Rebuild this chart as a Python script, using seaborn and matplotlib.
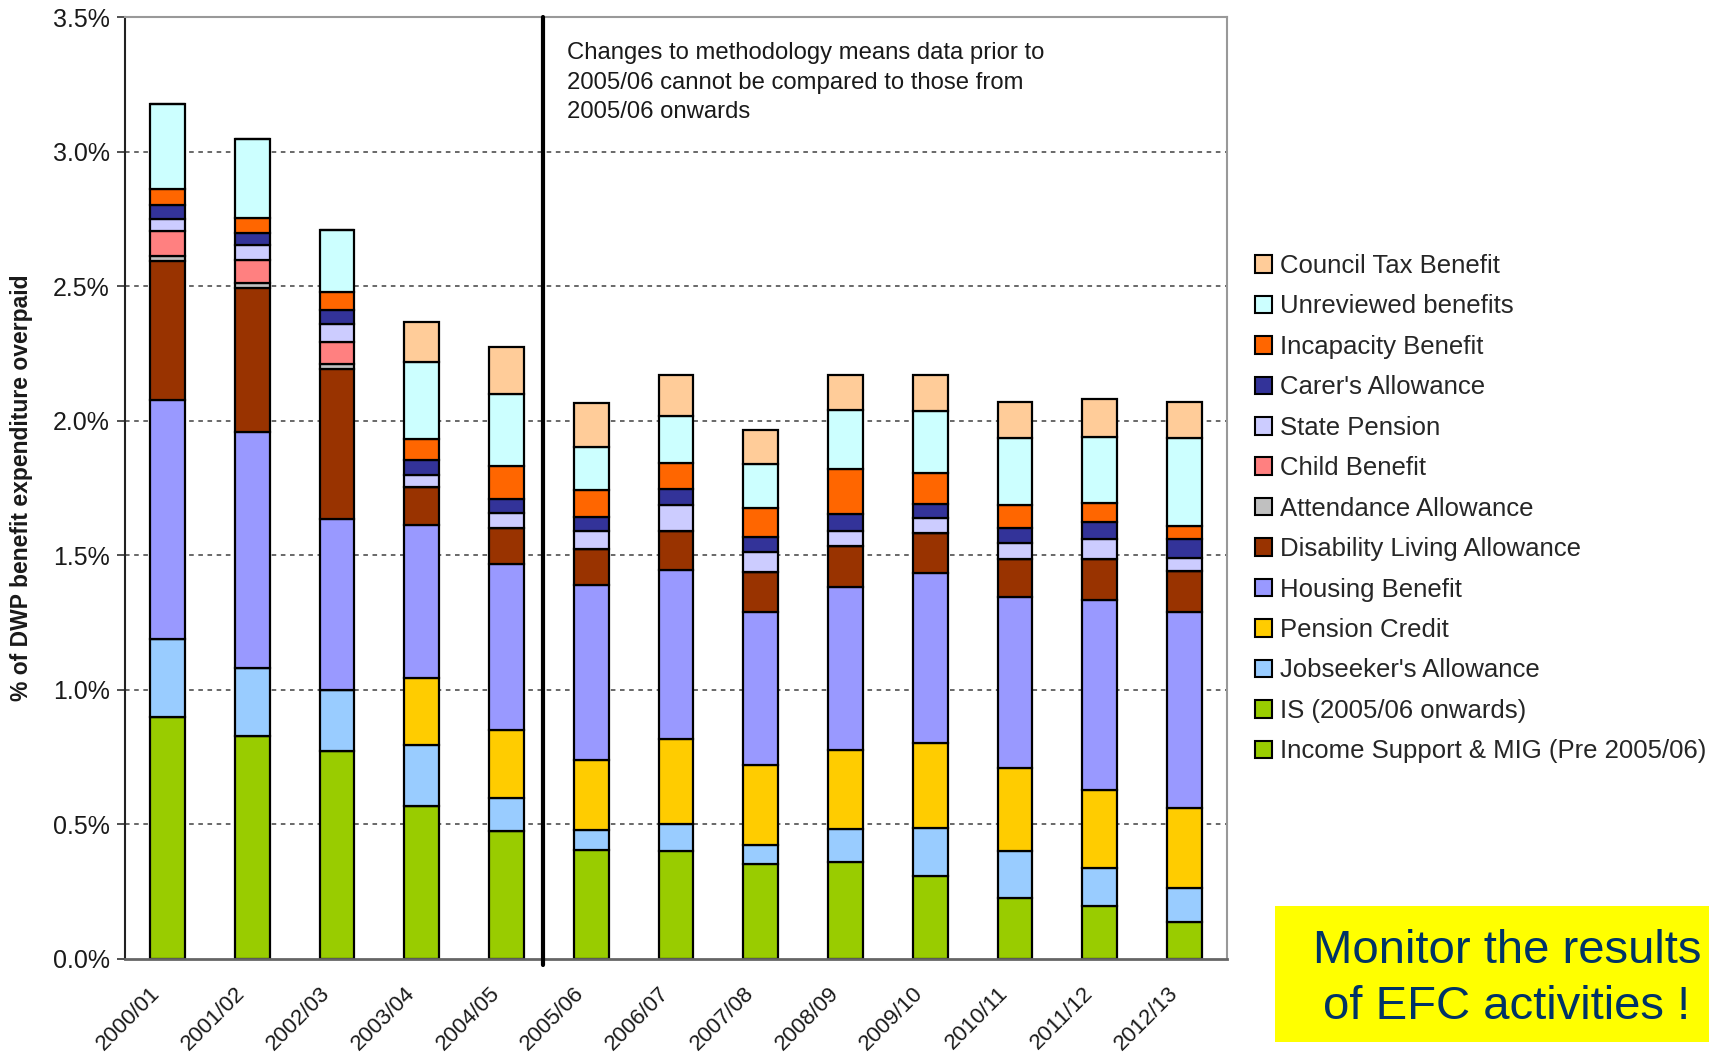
import numpy as np
import matplotlib
matplotlib.use("Agg")
import matplotlib.pyplot as plt
import matplotlib.transforms as mtransforms
from matplotlib.patches import Patch, Rectangle
import seaborn as sns

years = ['2000/01', '2001/02', '2002/03', '2003/04', '2004/05', '2005/06', '2006/07',
         '2007/08', '2008/09', '2009/10', '2010/11', '2011/12', '2012/13']

is_pre = [0.900, 0.829, 0.774, 0.569, 0.476, 0, 0, 0, 0, 0, 0, 0, 0]
is_post = [0, 0, 0, 0, 0, 0.404, 0.401, 0.354, 0.362, 0.308, 0.226, 0.196, 0.137]
jsa = [0.288, 0.251, 0.226, 0.226, 0.123, 0.074, 0.100, 0.068, 0.121, 0.177, 0.175, 0.142, 0.126]
pension_credit = [0, 0, 0, 0.248, 0.252, 0.261, 0.315, 0.299, 0.295, 0.317, 0.307, 0.291, 0.297]
housing = [0.888, 0.877, 0.636, 0.568, 0.616, 0.649, 0.630, 0.568, 0.605, 0.633, 0.638, 0.704, 0.730]
dla = [0.517, 0.537, 0.557, 0.143, 0.134, 0.136, 0.146, 0.150, 0.150, 0.146, 0.141, 0.153, 0.150]
attendance = [0.019, 0.019, 0.016, 0, 0, 0, 0, 0, 0, 0, 0, 0, 0]
child = [0.093, 0.084, 0.083, 0, 0, 0, 0, 0, 0, 0, 0, 0, 0]
state_pension = [0.046, 0.056, 0.066, 0.046, 0.056, 0.065, 0.095, 0.073, 0.058, 0.057, 0.060, 0.074, 0.051]
carers = [0.049, 0.046, 0.052, 0.055, 0.053, 0.053, 0.060, 0.057, 0.062, 0.052, 0.055, 0.062, 0.069]
incapacity = [0.060, 0.053, 0.069, 0.077, 0.120, 0.102, 0.095, 0.105, 0.168, 0.117, 0.085, 0.074, 0.047]
unreviewed = [0.315, 0.293, 0.229, 0.285, 0.270, 0.157, 0.175, 0.166, 0.217, 0.229, 0.247, 0.242, 0.327]
council_tax = [0, 0, 0, 0.149, 0.173, 0.163, 0.153, 0.124, 0.130, 0.134, 0.137, 0.141, 0.137]

# stacking order bottom -> top
series = [
    ("Income Support & MIG (Pre 2005/06)", is_pre, "#99CC00"),
    ("IS (2005/06 onwards)", is_post, "#99CC00"),
    ("Jobseeker's Allowance", jsa, "#99CCFF"),
    ("Pension Credit", pension_credit, "#FFCC00"),
    ("Housing Benefit", housing, "#9999FF"),
    ("Disability Living Allowance", dla, "#993300"),
    ("Attendance Allowance", attendance, "#C0C0C0"),
    ("Child Benefit", child, "#FF8080"),
    ("State Pension", state_pension, "#CCCCFF"),
    ("Carer's Allowance", carers, "#333399"),
    ("Incapacity Benefit", incapacity, "#FF6600"),
    ("Unreviewed benefits", unreviewed, "#CCFFFF"),
    ("Council Tax Benefit", council_tax, "#FFCC99"),
]

sns.set_style("white")
plt.rcParams['font.family'] = ['Liberation Sans', 'DejaVu Sans']

W, H = 1709, 1059
fig = plt.figure(figsize=(W / 100, H / 100), dpi=100)
ax = fig.add_axes([125 / W, 1 - 959 / H, (1227 - 125) / W, (959 - 17) / H])

cum = np.zeros(len(years))
for name, vals, col in series:
    v = np.array(vals, dtype=float)
    sns.barplot(x=years, y=v, bottom=cum.copy(), color=col, edgecolor="black",
                linewidth=1.6, width=0.41, ax=ax, saturation=1)
    cum = cum + v

ax.set_xlim(-0.5, len(years) - 0.5)
ax.set_ylim(0, 3.5)
yt = np.arange(0, 3.51, 0.5)
ax.set_yticks(yt)
ax.set_yticklabels([f"{t:.1f}%" for t in yt], fontsize=18, color="#1a1a1a")
for t in yt[1:-1]:
    ax.axhline(t, color="#404040", linestyle=(0, (3, 3)), linewidth=1.1, zorder=0)

ax.set_xticks(range(len(years)))
ax.set_xticklabels(years, rotation=45, ha="right", va="center",
                   rotation_mode="anchor", fontsize=16, color="#1a1a1a")
ax.tick_params(axis="x", which="major", length=0, pad=22)
shift = mtransforms.ScaledTranslation(-0.10, -0.01, fig.dpi_scale_trans)
for lab in ax.get_xticklabels():
    lab.set_transform(lab.get_transform() + shift)
ax.set_xticks(np.arange(-0.5, len(years), 1.0), minor=True)
ax.tick_params(axis="x", which="minor", length=6.5, width=1.2, color="#333333", direction="out")
ax.tick_params(axis="y", which="major", length=6, width=1.2, color="#333333", direction="out", left=True, pad=5)

for s in ["top", "right"]:
    ax.spines[s].set_color("#999999")
    ax.spines[s].set_linewidth(1.5)
ax.spines["left"].set_color("#222222")
ax.spines["left"].set_linewidth(1.5)
ax.spines["bottom"].set_color("#666666")
ax.spines["bottom"].set_linewidth(2.0)

ax.set_xlabel("")
ax.set_ylabel("% of DWP benefit expenditure overpaid", fontsize=16.5, fontweight="bold",
              color="#1a1a1a")
ax.yaxis.set_label_coords(-0.0835, 0.5)

# methodology divider
ax.plot([4.435, 4.435], [-0.022, 3.5], color="black", linewidth=3.0,
        solid_capstyle="round", clip_on=False, zorder=5)
ax.text(0.401, 0.973,
        "Changes to methodology means data prior to\n2005/06 cannot be compared to those from\n2005/06 onwards",
        transform=ax.transAxes, ha="left", va="top", fontsize=17.2, linespacing=1.42,
        color="#1a1a1a")

# legend
handles = [Patch(facecolor=col, edgecolor="black", linewidth=1.5, label=name)
           for name, vals, col in series[::-1]]
fig.legend(handles=handles, loc="upper left", bbox_to_anchor=(1255 / W, 1 - 254 / H),
           frameon=False, fontsize=18.5, handlelength=0.68, handleheight=0.68,
           handletextpad=0.3, labelspacing=0.64, borderpad=0, borderaxespad=0)

# yellow callout
fig.patches.append(Rectangle((1275 / W, 1 - 1042 / H), (W - 1275) / W, 136 / H,
                             transform=fig.transFigure, facecolor="#FFFF00",
                             edgecolor="none", zorder=0))
fig.text(1507 / W, 1 - 963 / H, "Monitor the results", ha="center", va="baseline",
         fontsize=34, color="#003366")
fig.text(1507 / W, 1 - 1019 / H, "of EFC activities !", ha="center", va="baseline",
         fontsize=34, color="#003366")

fig.savefig("out.png", dpi=100)
